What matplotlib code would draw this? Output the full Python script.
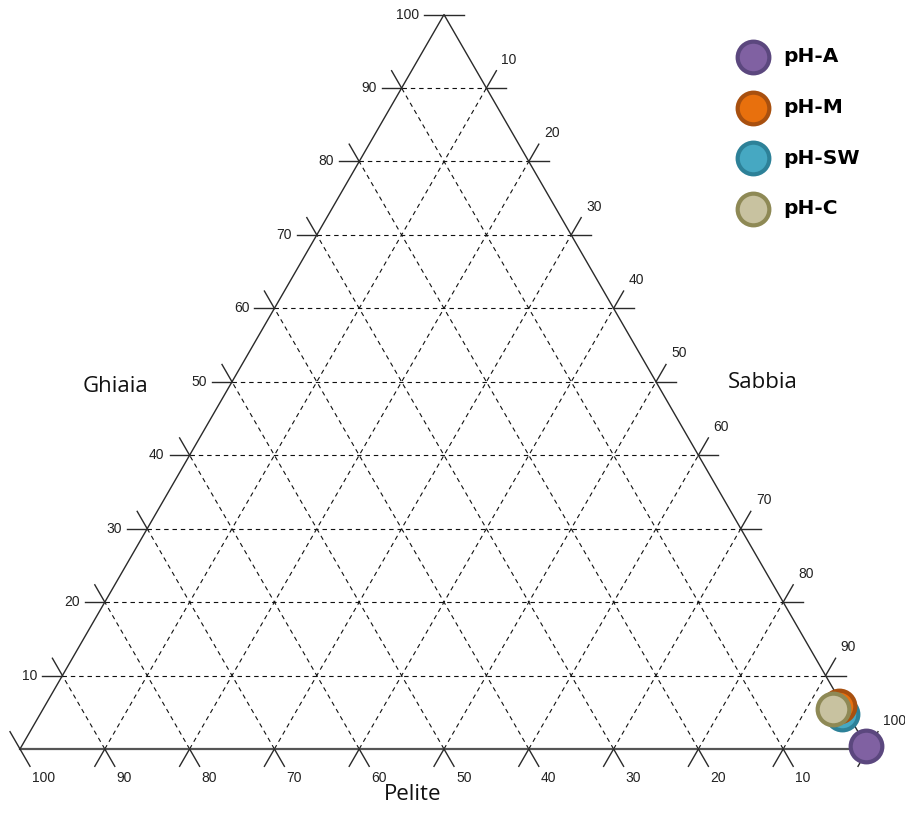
import numpy as np
import matplotlib.pyplot as plt

# campioni e composizione (%)
campioni = ['pH-A', 'pH-M', 'pH-SW', 'pH-C']
ghiaia = [0.4, 5.9, 4.8, 5.5]
sabbia = [99.6, 93.6, 94.5, 93.1]
pelite = [0.0, 0.5, 0.7, 1.4]
col_fill = ['#8061a2', '#e8700d', '#46a8c2', '#c8c2a0']
col_bordo = ['#5b477e', '#a8500f', '#2d8198', '#8e8955']
ordine = [1, 3, 2, 4]  # zorder relativo dei marker

valori_tick = [10, 20, 30, 40, 50, 60, 70, 80, 90, 100]
valori_griglia = [10, 20, 30, 40, 50, 60, 70, 80, 90]

W, H = 905, 839
fig = plt.figure(figsize=(W / 100, H / 100), dpi=100)
ax = fig.add_axes([0, 0, 1, 1])
ax.axis('off')

# scala: lato del triangolo = 100 unita = 848 px
PX = 8.48
X0, Y0 = 20, 749  # vertice pelite in pixel
ax.set_xlim(-X0 / PX, (W - X0) / PX)
ax.set_ylim(-(H - Y0) / PX, Y0 / PX)

h = np.sqrt(3) / 2


def tern(g, s, p):
    g = np.asarray(g, dtype=float)
    s = np.asarray(s, dtype=float)
    p = np.asarray(p, dtype=float)
    tot = g + s + p
    return 100 * (s + g / 2) / tot, 100 * g * h / tot


L = 20 / PX  # lunghezza tick
c_lin = '#2a2a2a'
tick_font = dict(family='Liberation Sans', fontsize=10, color='#222222')

# griglia tratteggiata
for v in valori_griglia:
    for a, b in [((v, 0, 100 - v), (v, 100 - v, 0)),
                 ((0, v, 100 - v), (100 - v, v, 0)),
                 ((0, 100 - v, v), (100 - v, 0, v))]:
        xa, ya = tern(*a)
        xb, yb = tern(*b)
        ax.plot([xa, xb], [ya, yb], color='#111111', lw=0.8,
                ls=(0, (4, 3.5)), zorder=1)

# bordi
xl, yl = tern(0, 0, 100)
xr, yr = tern(0, 100, 0)
xt, yt = tern(100, 0, 0)
ax.plot([xl, xt, xr], [yl, yt, yr], color=c_lin, lw=1.0, zorder=2)
ax.plot([xl, xr], [yl, yr], color='#555555', lw=1.6, zorder=2)

# tick e etichette
for v in valori_tick:
    # ghiaia: orizzontale
    x1, y1 = tern(v, 0, 100 - v)
    x2, y2 = tern(v, 100 - v, 0)
    ax.plot([x1 - L, x1], [y1, y1], color=c_lin, lw=1.0, zorder=2)
    ax.plot([x2, x2 + L], [y2, y2], color=c_lin, lw=1.0, zorder=2)
    ax.text(x1 - L - 5 / PX, y1, str(v), ha='right', va='center', **tick_font)

    # sabbia: parallela al lato sinistro
    x1, y1 = tern(0, v, 100 - v)
    x2, y2 = tern(100 - v, v, 0)
    ax.plot([x1 - L * 0.5, x1], [y1 - L * h, y1], color=c_lin, lw=1.0, zorder=2)
    ax.plot([x2, x2 + L * 0.5], [y2, y2 + L * h], color=c_lin, lw=1.0, zorder=2)
    ax.text(x2 + L * 0.5 + 5 / PX, y2 + L * h + 4 / PX, str(v),
            ha='left', va='bottom', **tick_font)

    # pelite: parallela al lato destro
    x1, y1 = tern(0, 100 - v, v)
    x2, y2 = tern(100 - v, 0, v)
    ax.plot([x1, x1 + L * 0.5], [y1, y1 - L * h], color=c_lin, lw=1.0, zorder=2)
    ax.plot([x2 - L * 0.5, x2], [y2 + L * h, y2], color=c_lin, lw=1.0, zorder=2)
    ax.text(x1 + L * 0.5 + 2 / PX, y1 - L * h - 5 / PX, str(v),
            ha='left', va='top', **tick_font)

# punti
xs, ys = tern(ghiaia, sabbia, pelite)
for i, nome in enumerate(campioni):
    ax.scatter(xs[i], ys[i], s=520, color=col_fill[i], edgecolors=col_bordo[i],
               linewidths=3, zorder=5 + ordine[i], label=nome, clip_on=False)

# titoli assi
tit_font = dict(family='Open Sans', fontsize=16, color='#111111')
fig.text(115 / W, 1 - 386 / H, 'Ghiaia', ha='center', va='center', **tit_font)
fig.text(763 / W, 1 - 383 / H, 'Sabbia', ha='center', va='center', **tit_font)
fig.text(413 / W, 1 - 795 / H, 'Pelite', ha='center', va='center', **tit_font)

leg = ax.legend(loc='upper left', bbox_to_anchor=(737 / W, 1 - 47 / H),
                bbox_transform=fig.transFigure, frameon=False, borderpad=0,
                borderaxespad=0, handlelength=1.6, handletextpad=0.7,
                labelspacing=1.58, prop=dict(family='DejaVu Sans', weight='bold', size=14.5))

fig.savefig('out.png', dpi=100)
